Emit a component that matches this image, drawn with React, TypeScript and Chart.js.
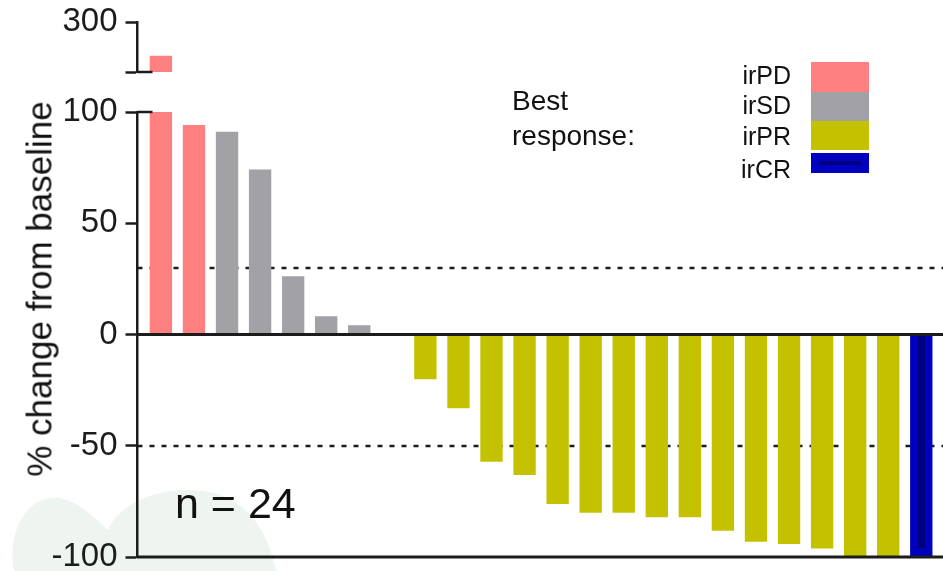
import React, { useEffect, useRef } from "react";
import { Chart, registerables } from "chart.js";

Chart.register(...registerables);

// ---------------- data ----------------
const patientIndex = [0, 1, 2, 3, 4, 5, 6, 7, 8, 9, 10, 11, 12, 13, 14, 15, 16, 17, 18, 19, 20, 21, 22, 23];
const bestResponse = [
  "irPD", "irPD",
  "irSD", "irSD", "irSD", "irSD", "irSD", "irSD",
  "irPR", "irPR", "irPR", "irPR", "irPR", "irPR", "irPR", "irPR",
  "irPR", "irPR", "irPR", "irPR", "irPR", "irPR", "irPR",
  "irCR",
];
const changeFromBaseline = [
  232, 94, 91, 74, 26, 8, 4, 0,
  -20, -33, -57, -63, -76, -80, -80, -82, -82, -88, -93, -94, -96, -100, -100,
  -100,
];
const crCoreValue = -96;
const referenceLines = [30, -50];
const lowerTicks = [-100, -50, 0, 50, 100];
const upperTicks = [200, 300];
const upperTickLabels = ["", "300"];
const legendLabels = ["irPD", "irSD", "irPR", "irCR"];
const sampleSizeText = "n = 24";
const axisTitle = "% change from baseline";

const responseColors: Record<string, string> = {
  irPD: "#FF8080",
  irSD: "#A1A1A6",
  irPR: "#C4C200",
  irCR: "#0000C0",
};
const crCoreColor = "#00007E";
const INK = "#1c1c1c";
const FONT = '"Liberation Sans", Arial, Helvetica, sans-serif';

const LOWER_MIN = -100;
const LOWER_MAX = 100;
const UPPER_MIN = 200;
const UPPER_MAX = 300;

function fitLeft(scale: any) {
  scale.width = 137.5;
  scale.paddingTop = 0;
  scale.paddingBottom = 0;
}

const overlayPlugin = {
  id: "overlayLines",
  beforeDatasetsDraw(chart: any) {
    const { ctx, chartArea } = chart;
    const y = chart.scales.y;
    ctx.save();
    ctx.strokeStyle = INK;
    ctx.lineWidth = 2.5;
    ctx.setLineDash([5, 7]);
    referenceLines.forEach((v) => {
      const py = Math.round(y.getPixelForValue(v));
      ctx.beginPath();
      ctx.moveTo(y.right, py);
      ctx.lineTo(chartArea.right, py);
      ctx.stroke();
    });
    ctx.restore();
  },
  afterDatasetsDraw(chart: any) {
    const { ctx, chartArea } = chart;
    const y = chart.scales.y;
    const yTop = chart.scales.yTop;
    ctx.save();
    ctx.strokeStyle = INK;
    ctx.setLineDash([]);
    ctx.lineWidth = 3;
    const hline = (x1: number, py: number, x2: number) => {
      ctx.beginPath();
      ctx.moveTo(x1, py);
      ctx.lineTo(x2, py);
      ctx.stroke();
    };
    hline(y.right - 1, y.getPixelForValue(0), chartArea.right);
    hline(y.right - 1, y.getPixelForValue(LOWER_MIN), chartArea.right);
    ctx.lineWidth = 2.5;
    hline(y.right, y.getPixelForValue(LOWER_MAX), y.right + 15);
    hline(yTop.right, yTop.getPixelForValue(UPPER_MIN), yTop.right + 15);
    ctx.restore();
  },
};

function axisCommon() {
  return {
    type: "linear" as const,
    position: "left" as const,
    stack: "brokenY",
    ticks: {
      font: { family: FONT, size: 33 },
      color: INK,
      padding: 8,
      autoSkip: false,
    },
    grid: {
      display: true,
      drawOnChartArea: false,
      drawTicks: true,
      tickLength: 12,
      tickWidth: 2.5,
      tickColor: INK,
      color: INK,
    },
    border: { display: true, color: INK, width: 2.5 },
    afterFit: fitLeft,
  };
}

function Text(props: {
  x: number;
  baseline: number;
  size: number;
  align?: "left" | "right";
  children: React.ReactNode;
}) {
  const { x, baseline, size, align = "left", children } = props;
  const style: React.CSSProperties = {
    position: "absolute",
    top: baseline - 0.8465 * size,
    fontSize: size,
    lineHeight: 1,
    whiteSpace: "nowrap",
    fontFamily: FONT,
    color: "#111",
  };
  if (align === "right") {
    style.right = 943 - x;
    style.textAlign = "right";
  } else {
    style.left = x;
  }
  return <div style={style}>{children}</div>;
}

export default function App() {
  const canvasRef = useRef<HTMLCanvasElement>(null);

  useEffect(() => {
    const colors = bestResponse.map((r) => responseColors[r]);
    const mainData = patientIndex.map((i) => ({ x: i, y: changeFromBaseline[i] }));
    const upperData = patientIndex.map((i) => ({
      x: i,
      y: changeFromBaseline[i] > LOWER_MAX ? changeFromBaseline[i] : null,
    }));
    const crCoreData = patientIndex.map((i) => ({
      x: i,
      y: bestResponse[i] === "irCR" ? crCoreValue : null,
    }));

    const chart = new Chart(canvasRef.current as HTMLCanvasElement, {
      type: "bar",
      data: {
        datasets: [
          {
            label: "irCR core",
            data: crCoreData as any,
            yAxisID: "y",
            backgroundColor: crCoreColor,
            barThickness: 7,
            grouped: false,
            clip: 0,
          } as any,
          {
            label: "change (lower)",
            data: mainData as any,
            yAxisID: "y",
            backgroundColor: colors,
            barThickness: 21.7,
            grouped: false,
            clip: 0,
          } as any,
          {
            label: "change (upper)",
            data: upperData as any,
            yAxisID: "yTop",
            backgroundColor: colors,
            barThickness: 21.7,
            grouped: false,
            clip: 0,
          } as any,
        ],
      },
      options: {
        animation: false,
        responsive: true,
        maintainAspectRatio: false,
        devicePixelRatio: 1,
        layout: { padding: { top: 22, bottom: 14, left: 0, right: 0 } },
        plugins: {
          legend: { display: false },
          tooltip: { enabled: false },
          title: { display: false },
        },
        scales: {
          x: {
            type: "linear",
            min: -0.708,
            max: 23.657,
            offset: false,
            grid: { offset: false },
            display: false,
          },
          y: {
            ...axisCommon(),
            weight: 1,
            stackWeight: 445,
            min: LOWER_MIN,
            max: LOWER_MAX,
            afterBuildTicks: (s: any) => {
              s.ticks = lowerTicks.map((v) => ({ value: v }));
            },
            ticks: {
              ...axisCommon().ticks,
              callback: (v: any) => String(v),
            },
          },
          yGap: {
            type: "linear",
            position: "left",
            stack: "brokenY",
            weight: 2,
            stackWeight: 40,
            min: 0,
            max: 1,
            display: true,
            ticks: { display: false },
            grid: { display: false, drawTicks: false },
            border: { display: false },
            afterFit: fitLeft,
          },
          yTop: {
            ...axisCommon(),
            weight: 3,
            stackWeight: 50,
            min: UPPER_MIN,
            max: UPPER_MAX,
            afterBuildTicks: (s: any) => {
              s.ticks = upperTicks.map((v) => ({ value: v }));
            },
            ticks: {
              ...axisCommon().ticks,
              callback: (v: any) => upperTickLabels[upperTicks.indexOf(Number(v))] ?? "",
            },
          },
        } as any,
      },
      plugins: [overlayPlugin],
    });
    return () => chart.destroy();
  }, []);

  const legendBaselines = [84, 114, 145, 178];
  const boxes = [
    { top: 62, h: 29.5 },
    { top: 91.5, h: 29 },
    { top: 120.5, h: 29 },
    { top: 153, h: 19.5 },
  ];

  return (
    <div
      style={{
        position: "fixed",
        left: 0,
        top: 0,
        width: 943,
        height: 571,
        background: "#ffffff",
        overflow: "hidden",
      }}
    >
      <svg
        width={943}
        height={571}
        style={{ position: "absolute", left: 0, top: 0 }}
      >
        <path
          d="M 14 571 C 8 545, 18 503, 50 498 C 72 495, 92 515, 108 530 C 118 506, 150 490, 190 490 C 240 491, 266 522, 276 571 Z"
          fill="#EEF4EF"
        />
      </svg>
      <div style={{ position: "absolute", left: 0, top: 0, width: 943, height: 571 }}>
        <canvas ref={canvasRef} />
      </div>

      <div
        style={{
          position: "absolute",
          left: 39,
          top: 289,
          transform: "translate(-50%, -50%) rotate(-90deg)",
          fontSize: 35,
          lineHeight: 1,
          whiteSpace: "nowrap",
          fontFamily: FONT,
          color: "#111",
        }}
      >
        {axisTitle}
      </div>

      <Text x={512} baseline={111} size={28}>Best</Text>
      <Text x={512} baseline={146} size={28}>response:</Text>

      {legendLabels.map((lab, i) => (
        <Text key={lab} x={791} baseline={legendBaselines[i]} size={25} align="right">
          {lab}
        </Text>
      ))}
      {legendLabels.map((lab, i) => (
        <div
          key={"box" + lab}
          style={{
            position: "absolute",
            left: 810.5,
            top: boxes[i].top,
            width: 58,
            height: boxes[i].h,
            background: responseColors[lab],
          }}
        >
          {lab === "irCR" ? (
            <div
              style={{
                position: "absolute",
                left: 8,
                right: 8,
                top: 8,
                height: 4,
                background: crCoreColor,
              }}
            />
          ) : null}
        </div>
      ))}

      <Text x={175} baseline={518} size={43}>{sampleSizeText}</Text>
    </div>
  );
}
